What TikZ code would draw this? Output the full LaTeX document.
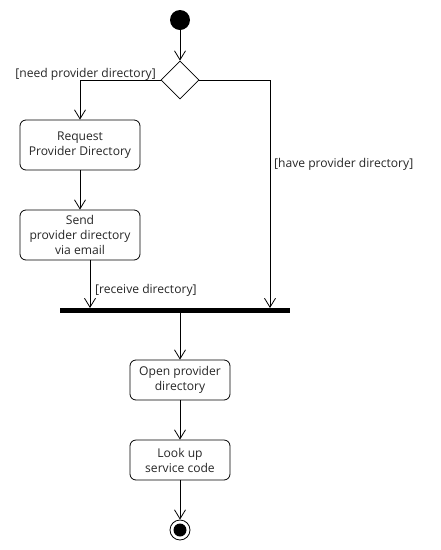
\documentclass[tikz,border=0pt]{standalone}
\usepackage{fontspec}
\setmainfont{Open Sans}
\usetikzlibrary{arrows.meta,shapes.geometric}
\begin{document}
\begin{tikzpicture}[x=1pt,y=-1pt,
  font=\fontsize{12.1}{15}\selectfont,
  act/.style={draw,rounded corners=6pt,minimum width=120pt,minimum height=50pt,align=center,inner sep=0pt,line width=0.8pt},
  act2/.style={act,minimum width=100pt,minimum height=40pt},
  flow/.style={draw,line width=0.8pt,-{Straight Barb[length=9pt,width=11pt,line width=0.8pt]}},
  lbl/.style={inner sep=0pt,text=black!85}]
\useasboundingbox (0,0) rectangle (440,550);
\node[circle,fill=black,minimum size=20pt,inner sep=0pt] (start) at (180,20) {};
\node[diamond,draw,line width=0.8pt,minimum width=38pt,minimum height=38pt,inner sep=0pt] (dec) at (180,80) {};
\node[act,text=black!85] (req) at (80,145) {Request\\Provider Directory};
\node[act,text=black!85] (send) at (80,235) {Send\\provider directory\\via email};
\node[fill=black,minimum width=230pt,minimum height=4.5pt,inner sep=0pt] (bar) at (175,310.5) {};
\node[act2,text=black!85] (open) at (180,380) {Open provider\\directory};
\node[act2,text=black!85] (look) at (180,460) {Look up\\service code};
\node[circle,draw,line width=0.8pt,minimum size=20pt,inner sep=0pt] (end) at (180,530) {};
\node[circle,fill=black,minimum size=13pt,inner sep=0pt] (endin) at (180,530) {};
\coordinate (sendb) at (90,260);
\coordinate (barl) at (90,308);
\coordinate (barr) at (270,308);
\draw[flow] (start) -- (dec);
\draw[flow] (dec.west) -| (req.north);
\draw[flow] (req) -- (send);
\draw[flow] (sendb) -- (barl);
\draw[flow] (dec.east) -| (barr);
\draw[flow] (bar.south -| open.north) -- (open);
\draw[flow] (open) -- (look);
\draw[flow] (look) -- (end);
\node[lbl,anchor=base east] (l1) at (156,77) {[need provider directory]};
\node[lbl,anchor=base west] (l2) at (274,167) {[have provider directory]};
\node[lbl,anchor=base west] (l3) at (95,293) {[receive directory]};
\end{tikzpicture}
\end{document}
